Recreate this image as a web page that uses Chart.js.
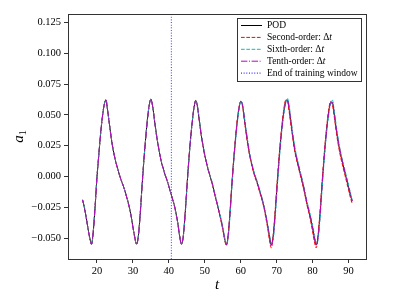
<!DOCTYPE html>
<html lang="en">
<head>
  <meta charset="UTF-8" />
  <title>a1 vs t</title>
  <script src="https://cdn.jsdelivr.net/npm/chart.js"></script>
  <style>
    html, body { margin: 0; padding: 0; background: #fff; }
    #wrap { width: 407px; height: 306px; }
  </style>
</head>
<body>
  <div id="wrap"><canvas id="chart" width="407" height="306"></canvas></div>
  <script>
    // time samples (every 0.5)
    const t = [
      16, 16.5, 17, 17.5, 18, 18.5, 19, 19.5, 20, 20.5, 21, 21.5, 22, 22.5, 23, 23.5, 24, 24.5, 25, 25.5,
      26, 26.5, 27, 27.5, 28, 28.5, 29, 29.5, 30, 30.5, 31, 31.5, 32, 32.5, 33, 33.5, 34, 34.5, 35, 35.5,
      36, 36.5, 37, 37.5, 38, 38.5, 39, 39.5, 40, 40.5,
      41, 41.5, 42, 42.5, 43, 43.5, 44, 44.5, 45, 45.5, 46, 46.5, 47, 47.5, 48, 48.5, 49, 49.5, 50, 50.5,
      51, 51.5, 52, 52.5, 53, 53.5, 54, 54.5, 55, 55.5, 56, 56.5, 57, 57.5, 58, 58.5, 59, 59.5, 60, 60.5,
      61, 61.5, 62, 62.5, 63, 63.5, 64, 64.5, 65, 65.5, 66, 66.5, 67, 67.5, 68, 68.5, 69, 69.5, 70, 70.5,
      71, 71.5, 72, 72.5, 73, 73.5, 74, 74.5, 75, 75.5, 76, 76.5, 77, 77.5, 78, 78.5, 79, 79.5, 80, 80.5,
      81, 81.5, 82, 82.5, 83, 83.5, 84, 84.5, 85, 85.5, 86, 86.5, 87, 87.5, 88, 88.5, 89, 89.5, 90, 90.5, 91
    ];

    // POD coefficient a1
    const pod = [
      -0.019, -0.025, -0.033, -0.042, -0.050, -0.055, -0.044, -0.024, -0.001, 0.017,
      0.034, 0.048, 0.058, 0.0623, 0.053, 0.042, 0.031, 0.022, 0.015, 0.009,
      0.004, -0.001, -0.005, -0.009, -0.014, -0.019, -0.025, -0.032, -0.041, -0.049,
      -0.055, -0.049, -0.032, -0.010, 0.011, 0.029, 0.045, 0.057, 0.0628, 0.057,
      0.046, 0.035, 0.026, 0.018, 0.011, 0.006, 0.001, -0.003, -0.008, -0.013,
      -0.018, -0.023, -0.030, -0.038, -0.048, -0.055, -0.049, -0.032, -0.010, 0.011,
      0.029, 0.044, 0.056, 0.0617, 0.056, 0.045, 0.034, 0.025, 0.017, 0.011,
      0.005, 0.000, -0.005, -0.011, -0.017, -0.023, -0.029, -0.035, -0.042, -0.050,
      -0.0555, -0.048, -0.030, -0.008, 0.012, 0.029, 0.044, 0.055, 0.061, 0.058,
      0.047, 0.036, 0.026, 0.017, 0.011, 0.005, 0.000, -0.004, -0.009, -0.014,
      -0.019, -0.025, -0.032, -0.040, -0.049, -0.0555, -0.049, -0.033, -0.012, 0.008,
      0.026, 0.041, 0.053, 0.061, 0.062, 0.054, 0.043, 0.032, 0.022, 0.015,
      0.009, 0.003, -0.003, -0.009, -0.016, -0.023, -0.029, -0.035, -0.042, -0.050,
      -0.0555, -0.049, -0.033, -0.012, 0.008, 0.026, 0.041, 0.053, 0.060, 0.060,
      0.051, 0.040, 0.030, 0.022, 0.015, 0.009, 0.003, -0.003, -0.009, -0.015, -0.020
    ];

    // predictions after the training window (t = 41 ... 91)
    const secondPred = [
      -0.018, -0.023, -0.030, -0.038, -0.048, -0.055, -0.049, -0.032, -0.010, 0.011,
      0.029, 0.044, 0.056, 0.0618, 0.056, 0.045, 0.034, 0.025, 0.017, 0.011,
      0.005, 0.000, -0.005, -0.011, -0.017, -0.023, -0.029, -0.036, -0.043, -0.051,
      -0.056, -0.048, -0.030, -0.008, 0.012, 0.030, 0.045, 0.056, 0.061, 0.057,
      0.046, 0.035, 0.025, 0.017, 0.010, 0.004, -0.001, -0.005, -0.010, -0.015,
      -0.020, -0.026, -0.034, -0.042, -0.052, -0.058, -0.049, -0.031, -0.010, 0.010,
      0.028, 0.043, 0.055, 0.062, 0.061, 0.052, 0.041, 0.031, 0.021, 0.014,
      0.008, 0.002, -0.004, -0.010, -0.017, -0.024, -0.030, -0.037, -0.045, -0.053,
      -0.058, -0.048, -0.031, -0.010, 0.010, 0.028, 0.043, 0.055, 0.061, 0.058,
      0.049, 0.038, 0.028, 0.020, 0.013, 0.007, 0.001, -0.005, -0.011, -0.017, -0.022
    ];
    const sixthPred = [
      -0.018, -0.023, -0.030, -0.038, -0.048, -0.055, -0.049, -0.033, -0.011, 0.010,
      0.028, 0.044, 0.056, 0.0618, 0.057, 0.046, 0.035, 0.026, 0.018, 0.011,
      0.005, 0.000, -0.004, -0.010, -0.016, -0.022, -0.028, -0.034, -0.041, -0.049,
      -0.055, -0.050, -0.033, -0.011, 0.010, 0.027, 0.042, 0.054, 0.061, 0.059,
      0.049, 0.038, 0.028, 0.019, 0.012, 0.006, 0.001, -0.003, -0.008, -0.013,
      -0.018, -0.024, -0.031, -0.039, -0.047, -0.054, -0.052, -0.037, -0.016, 0.005,
      0.023, 0.039, 0.051, 0.060, 0.0636, 0.057, 0.046, 0.035, 0.025, 0.017,
      0.011, 0.005, -0.001, -0.007, -0.014, -0.021, -0.027, -0.033, -0.040, -0.047,
      -0.054, -0.052, -0.037, -0.016, 0.005, 0.023, 0.039, 0.051, 0.059, 0.062,
      0.054, 0.043, 0.033, 0.024, 0.017, 0.011, 0.005, -0.001, -0.007, -0.013, -0.019
    ];
    const tenthPred = [
      -0.018, -0.023, -0.030, -0.038, -0.048, -0.055, -0.049, -0.032, -0.010, 0.011,
      0.029, 0.044, 0.056, 0.0617, 0.056, 0.045, 0.034, 0.025, 0.017, 0.011,
      0.005, 0.000, -0.005, -0.011, -0.017, -0.023, -0.029, -0.035, -0.042, -0.050,
      -0.0555, -0.048, -0.031, -0.009, 0.011, 0.029, 0.044, 0.055, 0.061, 0.058,
      0.048, 0.037, 0.027, 0.018, 0.011, 0.005, 0.000, -0.004, -0.009, -0.014,
      -0.019, -0.025, -0.032, -0.040, -0.049, -0.056, -0.050, -0.034, -0.013, 0.007,
      0.025, 0.040, 0.052, 0.060, 0.0625, 0.055, 0.044, 0.033, 0.023, 0.016,
      0.010, 0.004, -0.002, -0.008, -0.015, -0.022, -0.028, -0.034, -0.041, -0.049,
      -0.056, -0.050, -0.034, -0.013, 0.007, 0.025, 0.040, 0.052, 0.060, 0.061,
      0.052, 0.041, 0.031, 0.023, 0.016, 0.010, 0.004, -0.002, -0.008, -0.014, -0.020
    ];

    const trainEnd = 40.7;
    const xTicks = [20, 30, 40, 50, 60, 70, 80, 90];
    const yTicks = [-0.05, -0.025, 0, 0.025, 0.05, 0.075, 0.1, 0.125];
    const xMin = 11.95, xMax = 94.85;
    const yMin = -0.067, yMax = 0.132;

    const serif = "'Liberation Serif', 'DejaVu Serif', serif";

    // inside the training window the models reproduce the POD values
    const nTrain = 50;
    const secondOrder = pod.slice(0, nTrain).concat(secondPred);
    const sixthOrder = pod.slice(0, nTrain).concat(sixthPred);
    const tenthOrder = pod.slice(0, nTrain).concat(tenthPred);

    const pts = arr => arr.map((v, i) => ({ x: t[i], y: v }));

    const series = [
      { label: 'POD', data: pts(pod), color: '#000000', dash: [], width: 1, order: 4 },
      { label: 'Second-order: ', data: pts(secondOrder), color: '#ff0000', dash: [3.7, 1.6], width: 1, order: 3 },
      { label: 'Sixth-order: ', data: pts(sixthOrder), color: '#00bfbf', dash: [3.7, 1.6], width: 1, order: 2 },
      { label: 'Tenth-order: ', data: pts(tenthOrder), color: '#bf00bf', dash: [6.4, 1.6, 1, 1.6], width: 1, order: 1 },
      { label: 'End of training window', data: [{ x: trainEnd, y: yMin }, { x: trainEnd, y: yMax }],
        color: '#0000ff', dash: [1, 1.65], width: 0.8, order: 5 }
    ];

    // frame, legend and axis titles
    const extras = {
      id: 'extras',
      afterDraw(chart) {
        const ctx = chart.ctx;
        const a = chart.chartArea;
        ctx.save();
        ctx.strokeStyle = '#333';
        ctx.lineWidth = 1;
        ctx.strokeRect(Math.round(a.left) + 0.5, Math.round(a.top) + 0.5,
          Math.round(a.right - a.left), Math.round(a.bottom - a.top));

        // legend
        const bx = 237.5, by = 18.5, bw = 124, bh = 63;
        ctx.fillStyle = 'rgba(255,255,255,0.85)';
        ctx.fillRect(bx, by, bw, bh);
        ctx.strokeStyle = '#333';
        ctx.strokeRect(bx, by, bw, bh);
        ctx.textBaseline = 'middle';
        series.forEach((s, i) => {
          const y = 25.5 + i * 11.9;
          ctx.beginPath();
          ctx.setLineDash(s.dash);
          ctx.strokeStyle = s.color;
          ctx.lineWidth = 1;
          ctx.moveTo(241, y);
          ctx.lineTo(262, y);
          ctx.stroke();
          ctx.setLineDash([]);
          ctx.fillStyle = '#000';
          ctx.font = '9.5px ' + serif;
          ctx.textAlign = 'left';
          ctx.fillText(s.label, 267, y);
          if (i >= 1 && i <= 3) {
            const w = ctx.measureText(s.label).width;
            ctx.fillText('\u0394', 267 + w, y);
            const wd = ctx.measureText('\u0394').width;
            ctx.font = 'italic 9.5px ' + serif;
            ctx.fillText('t', 267 + w + wd, y);
          }
        });

        // x title
        ctx.fillStyle = '#000';
        ctx.font = 'italic 15px ' + serif;
        ctx.textAlign = 'center';
        ctx.textBaseline = 'middle';
        ctx.fillText('t', (a.left + a.right) / 2, 285);

        // y title a_1
        ctx.translate(19, (a.top + a.bottom) / 2);
        ctx.rotate(-Math.PI / 2);
        ctx.textAlign = 'left';
        ctx.textBaseline = 'alphabetic';
        ctx.font = 'italic 15px ' + serif;
        const wa = ctx.measureText('a').width;
        ctx.font = '10px ' + serif;
        const w1 = ctx.measureText('1').width;
        ctx.font = 'italic 15px ' + serif;
        ctx.fillText('a', -(wa + w1) / 2, 4);
        ctx.font = '10px ' + serif;
        ctx.fillText('1', -(wa + w1) / 2 + wa, 7);
        ctx.restore();
      }
    };

    new Chart(document.getElementById('chart'), {
      type: 'line',
      data: {
        datasets: series.map(s => ({
          label: s.label,
          data: s.data,
          borderColor: s.color,
          borderDash: s.dash,
          borderWidth: s.width,
          pointRadius: 0,
          fill: false,
          cubicInterpolationMode: 'monotone',
          order: s.order
        }))
      },
      options: {
        responsive: false,
        animation: false,
        devicePixelRatio: 1,
        layout: { padding: { top: 14, right: 41, left: 0, bottom: 0 } },
        plugins: { legend: { display: false }, tooltip: { enabled: false } },
        scales: {
          x: {
            type: 'linear',
            min: xMin,
            max: xMax,
            afterBuildTicks: s => { s.ticks = xTicks.map(v => ({ value: v })); },
            afterFit: s => { s.height = 47; },
            ticks: { color: '#000', font: { family: serif, size: 10.5 }, padding: 2, maxRotation: 0 },
            grid: { drawOnChartArea: false, drawTicks: true, tickLength: 4, color: '#333' },
            border: { display: false }
          },
          y: {
            type: 'linear',
            min: yMin,
            max: yMax,
            afterBuildTicks: s => { s.ticks = yTicks.map(v => ({ value: v })); },
            afterFit: s => { s.width = 68; },
            ticks: {
              color: '#000',
              font: { family: serif, size: 10.5 },
              padding: 3,
              callback: v => v.toFixed(3).replace('-', '\u2212')
            },
            grid: { drawOnChartArea: false, drawTicks: true, tickLength: 4, color: '#333' },
            border: { display: false }
          }
        }
      },
      plugins: [extras]
    });
  </script>
</body>
</html>
